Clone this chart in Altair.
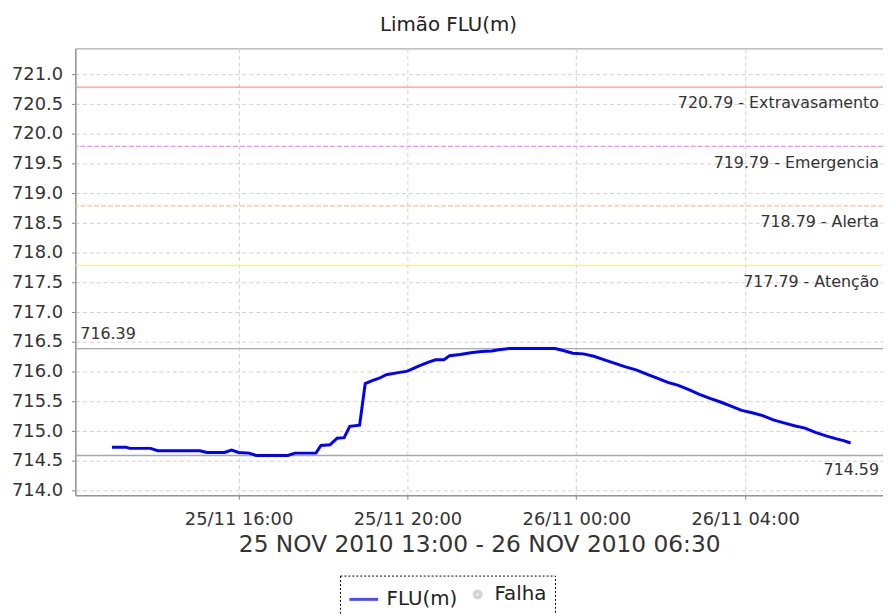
import altair as alt
import pandas as pd

# ---- data ----
times = [
    "2010-11-25T13:00", "2010-11-25T13:20", "2010-11-25T13:25", "2010-11-25T13:55",
    "2010-11-25T14:05", "2010-11-25T15:05", "2010-11-25T15:15", "2010-11-25T15:40",
    "2010-11-25T15:50", "2010-11-25T16:00", "2010-11-25T16:15", "2010-11-25T16:25",
    "2010-11-25T17:10", "2010-11-25T17:20", "2010-11-25T17:50", "2010-11-25T17:57",
    "2010-11-25T18:10", "2010-11-25T18:20", "2010-11-25T18:30", "2010-11-25T18:38",
    "2010-11-25T18:52", "2010-11-25T19:00", "2010-11-25T19:10", "2010-11-25T19:20",
    "2010-11-25T19:30", "2010-11-25T19:45", "2010-11-25T20:00", "2010-11-25T20:15",
    "2010-11-25T20:30", "2010-11-25T20:40", "2010-11-25T20:52", "2010-11-25T21:00",
    "2010-11-25T21:15", "2010-11-25T21:30", "2010-11-25T21:45", "2010-11-25T22:00",
    "2010-11-25T22:10", "2010-11-25T22:25", "2010-11-25T23:30", "2010-11-25T23:40",
    "2010-11-25T23:55", "2010-11-26T00:10", "2010-11-26T00:25", "2010-11-26T00:40",
    "2010-11-26T00:55", "2010-11-26T01:10", "2010-11-26T01:25", "2010-11-26T01:40",
    "2010-11-26T01:55", "2010-11-26T02:10", "2010-11-26T02:25", "2010-11-26T02:40",
    "2010-11-26T02:55", "2010-11-26T03:10", "2010-11-26T03:25", "2010-11-26T03:40",
    "2010-11-26T03:55", "2010-11-26T04:10", "2010-11-26T04:25", "2010-11-26T04:40",
    "2010-11-26T04:55", "2010-11-26T05:10", "2010-11-26T05:25", "2010-11-26T05:40",
    "2010-11-26T05:55", "2010-11-26T06:10", "2010-11-26T06:20", "2010-11-26T06:30",
]
levels = [
    714.73, 714.73, 714.71, 714.71,
    714.67, 714.67, 714.64, 714.64,
    714.68, 714.64, 714.63, 714.59,
    714.59, 714.63, 714.63, 714.76,
    714.77, 714.88, 714.89, 715.08,
    715.10, 715.80, 715.85, 715.89,
    715.95, 715.98, 716.01, 716.09,
    716.16, 716.20, 716.20, 716.27,
    716.29, 716.32, 716.34, 716.35,
    716.37, 716.39, 716.39, 716.36,
    716.31, 716.30, 716.26, 716.20,
    716.14, 716.08, 716.03, 715.96,
    715.89, 715.82, 715.77, 715.70,
    715.62, 715.55, 715.49, 715.42,
    715.35, 715.31, 715.26, 715.19,
    715.14, 715.09, 715.05, 714.98,
    714.92, 714.87, 714.84, 714.80,
]

series_names = ["FLU(m)", "Falha"]
threshold_names = ["Extravasamento", "Emergencia", "Alerta", "Atenção"]
threshold_values = [720.79, 719.79, 718.79, 717.79]
threshold_colors = ["#ff9595", "#ff88ff", "#ffc090", "#ffeb8a"]
threshold_dashes = [[1, 0], [5, 2], [5, 2], [1, 0]]

y_ticks = [714.0, 714.5, 715.0, 715.5, 716.0, 716.5, 717.0, 717.5,
           718.0, 718.5, 719.0, 719.5, 720.0, 720.5, 721.0]
x_ticks = [(25, 16), (25, 20), (26, 0), (26, 4)]

# ---- tables ----
df = pd.DataFrame({"time": times, "level": levels, "series": "FLU(m)"})
thr = pd.DataFrame({"name": threshold_names, "value": threshold_values})
thr["label"] = [f"{v:.2f} - {n}" for v, n in zip(threshold_values, threshold_names)]
vmax, vmin = max(levels), min(levels)
ext = pd.DataFrame({"value": [vmax, vmin]})
maxdf = pd.DataFrame({"value": [vmax], "label": [f"{vmax:.2f}"]})
mindf = pd.DataFrame({"value": [vmin], "label": [f"{vmin:.2f}"]})

W, H = 815, 451
FONT = "DejaVu Sans"

yscale = alt.Scale(domain=[713.92, 721.44], nice=False, zero=False)
xscale = alt.Scale(domain=[alt.DateTime(year=2010, month=11, date=25, hours=12, minutes=8),
                           alt.DateTime(year=2010, month=11, date=26, hours=7, minutes=16)])

yaxis = alt.Axis(values=y_ticks, format=".1f", title=None, labelFontSize=18,
                 tickSize=4, labelPadding=9, labelOverlap=False)
xaxis = alt.Axis(values=[alt.DateTime(year=2010, month=11, date=d, hours=h) for d, h in x_ticks],
                 format="%d/%m %H:%M", labelFontSize=18, tickSize=4, labelPadding=11,
                 labelOverlap=False,
                 title="25 NOV 2010 13:00 - 26 NOV 2010 06:30", titleFontSize=23.5,
                 titleFontWeight="normal", titleBaseline="alphabetic", titleY=57,
                 titleColor="#333")


def Y(field):
    return alt.Y(field, scale=yscale, axis=yaxis)


rules = alt.Chart(thr).mark_rule(strokeWidth=1.3).encode(
    y=Y("value:Q"),
    stroke=alt.Stroke("name:N", scale=alt.Scale(domain=threshold_names, range=threshold_colors), legend=None),
    strokeDash=alt.StrokeDash("name:N", scale=alt.Scale(domain=threshold_names, range=threshold_dashes), legend=None),
)
rule_text = alt.Chart(thr).mark_text(align="right", dy=16.5, fontSize=16, font=FONT, color="#333").encode(
    y=Y("value:Q"), x=alt.value(W - 4), text="label:N")

ext_rules = alt.Chart(ext).mark_rule(color="#a8a8a8", strokeWidth=1.3).encode(y=Y("value:Q"))
max_text = alt.Chart(maxdf).mark_text(align="left", dy=-15, fontSize=16, font=FONT, color="#333").encode(
    y=Y("value:Q"), x=alt.value(5), text="label:N")
min_text = alt.Chart(mindf).mark_text(align="right", dy=15, fontSize=16, font=FONT, color="#333").encode(
    y=Y("value:Q"), x=alt.value(W - 4), text="label:N")

line = alt.Chart(df).mark_line(strokeWidth=3, color="#0000ff").encode(
    x=alt.X("time:T", scale=xscale, axis=xaxis),
    y=Y("level:Q"),
)

legend_layer = alt.Chart(df).transform_filter("false").mark_point(filled=False).encode(
    x=alt.X("time:T", scale=xscale, axis=xaxis),
    y=Y("level:Q"),
    color=alt.Color("series:N", scale=alt.Scale(domain=series_names, range=["#0000ff", "#c4c4c4"]),
                    legend=alt.Legend(title=None, orient="none", legendX=267, legendY=532,
                                      direction="horizontal", labelFontSize=20, labelFont=FONT,
                                      labelColor="#222", labelOffset=7, columnPadding=6,
                                      padding=8, strokeColor="#000")),
    shape=alt.Shape("series:N", scale=alt.Scale(domain=series_names, range=["stroke", "circle"])),
    size=alt.Size("series:N", scale=alt.Scale(domain=series_names, range=[841, 16])),
    strokeWidth=alt.StrokeWidth("series:N", scale=alt.Scale(domain=series_names, range=[3, 6])),
)

chart = alt.layer(rules, rule_text, ext_rules, max_text, min_text, line, legend_layer).properties(
    width=W, height=H,
    title=alt.TitleParams("Limão FLU(m)", fontSize=20, font=FONT, fontWeight="normal",
                          color="#222", anchor="middle", dx=-31, dy=17, offset=15, baseline="alphabetic"),
    autosize=alt.AutoSizeParams(type="none"),
    padding={"left": 68, "top": 38, "right": 0, "bottom": 117},
).configure_axis(
    labelFont=FONT, titleFont=FONT, labelColor="#333", gridColor="#d0d0d0", gridDash=[4, 3],
    domainColor="#888", tickColor="#888", grid=True,
).configure_legend(
    strokeDash=[2, 2], strokeWidth=1,
).configure_view(stroke="#999")

chart.save("out.html", embed_options={"renderer": "svg", "actions": False})
